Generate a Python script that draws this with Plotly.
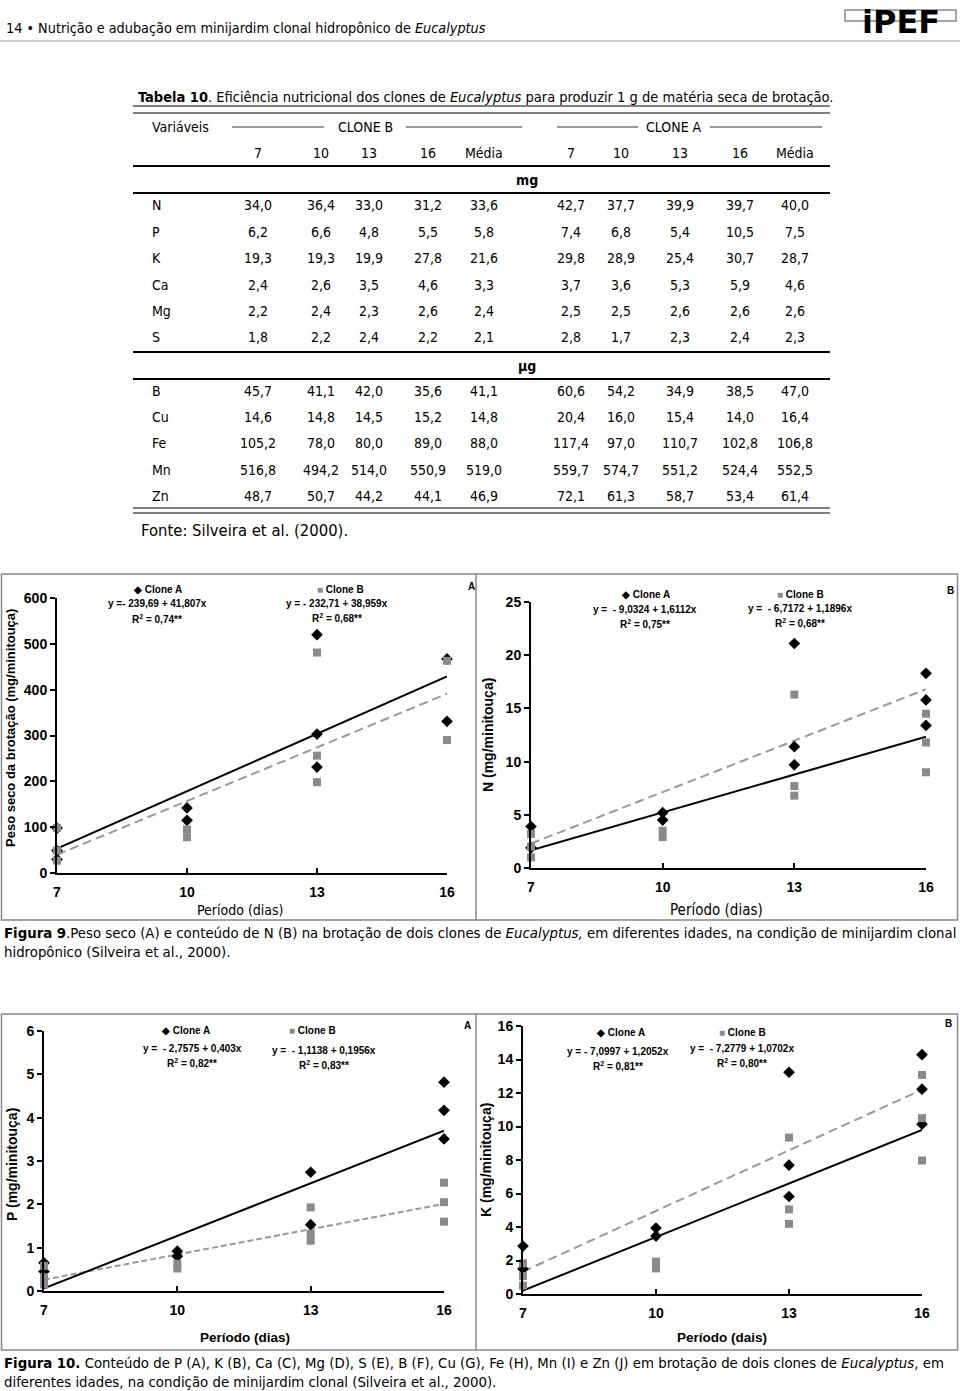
import plotly.graph_objects as go

W, H = 960, 1391
def X(p): return p / W
def Y(p): return 1 - p / H

NARROW = "Liberation Sans Narrow, Arial Narrow, DejaVu Sans Condensed, sans-serif"
SANS = "Liberation Sans, Arial, Helvetica, sans-serif"
GRAY = "#8a8a8a"

# ---------------- table data ----------------
vars_mg = ["N", "P", "K", "Ca", "Mg", "S"]
cloneB_mg = [[34.0, 36.4, 33.0, 31.2, 33.6], [6.2, 6.6, 4.8, 5.5, 5.8], [19.3, 19.3, 19.9, 27.8, 21.6],
             [2.4, 2.6, 3.5, 4.6, 3.3], [2.2, 2.4, 2.3, 2.6, 2.4], [1.8, 2.2, 2.4, 2.2, 2.1]]
cloneA_mg = [[42.7, 37.7, 39.9, 39.7, 40.0], [7.4, 6.8, 5.4, 10.5, 7.5], [29.8, 28.9, 25.4, 30.7, 28.7],
             [3.7, 3.6, 5.3, 5.9, 4.6], [2.5, 2.5, 2.6, 2.6, 2.6], [2.8, 1.7, 2.3, 2.4, 2.3]]
vars_ug = ["B", "Cu", "Fe", "Mn", "Zn"]
cloneB_ug = [[45.7, 41.1, 42.0, 35.6, 41.1], [14.6, 14.8, 14.5, 15.2, 14.8], [105.2, 78.0, 80.0, 89.0, 88.0],
             [516.8, 494.2, 514.0, 550.9, 519.0], [48.7, 50.7, 44.2, 44.1, 46.9]]
cloneA_ug = [[60.6, 54.2, 34.9, 38.5, 47.0], [20.4, 16.0, 15.4, 14.0, 16.4], [117.4, 97.0, 110.7, 102.8, 106.8],
             [559.7, 574.7, 551.2, 524.4, 552.5], [72.1, 61.3, 58.7, 53.4, 61.4]]
col_labels = ["7", "10", "13", "16", "Média"]

# ---------------- chart data ----------------
periods = [7, 10, 13, 16]
# Fig 9A - Peso seco
f9a_A_x = [7, 7, 7, 10, 10, 13, 13, 13, 16, 16]
f9a_A_y = [98, 49, 30, 142, 115, 520, 303, 231, 467, 331]
f9a_B_x = [7, 7, 7, 10, 10, 13, 13, 13, 16, 16]
f9a_B_y = [98, 49, 27, 95, 78, 481, 256, 198, 463, 290]
f9a_solid = [53, 429]
f9a_dash = [40, 391]
# Fig 9B - N
f9b_A_x = [7, 7, 10, 10, 13, 13, 13, 16, 16, 16]
f9b_A_y = [3.9, 1.9, 5.2, 4.5, 21.1, 11.4, 9.7, 18.3, 15.8, 13.4]
f9b_B_x = [7, 7, 7, 10, 10, 13, 13, 13, 16, 16, 16]
f9b_B_y = [3.2, 2.0, 1.0, 3.5, 2.9, 16.3, 7.7, 6.8, 14.5, 11.8, 9.0]
f9b_solid = [1.66, 12.34]
f9b_dash = [2.3, 16.8]
# Fig 10A - P
f10a_A_x = [7, 7, 10, 10, 13, 13, 16, 16, 16]
f10a_A_y = [0.65, 0.45, 0.92, 0.80, 2.74, 1.53, 4.82, 4.17, 3.51]
f10a_B_x = [7, 7, 7, 10, 10, 13, 13, 13, 16, 16, 16]
f10a_B_y = [0.58, 0.32, 0.15, 0.63, 0.52, 1.93, 1.32, 1.16, 2.50, 2.05, 1.60]
f10a_solid = [0.06, 3.70]
f10a_dash = [0.26, 2.01]
# Fig 10B - K
f10b_A_x = [7, 7, 10, 10, 13, 13, 13, 16, 16, 16]
f10b_A_y = [2.86, 1.5, 3.94, 3.46, 13.24, 7.69, 5.82, 14.29, 12.23, 10.14]
f10b_B_x = [7, 7, 7, 10, 10, 13, 13, 13, 16, 16, 16]
f10b_B_y = [1.83, 1.07, 0.5, 1.93, 1.53, 9.34, 5.05, 4.19, 13.08, 10.5, 7.97]
f10b_solid = [0.2, 9.8]
f10b_dash = [1.34, 12.2]

line_x = [7, 16]

fig = go.Figure()
annotations = []
shapes = []

def txt(x, y, text, size=14, family=NARROW, anchor="left", color="black", angle=0, yanchor="middle"):
    annotations.append(dict(x=X(x), y=Y(y), xref="paper", yref="paper", text=text, showarrow=False,
                            xanchor=anchor, yanchor=yanchor, textangle=angle,
                            font=dict(family=family, size=size, color=color)))

def hline(x0, x1, y, w=1.2, color="black"):
    shapes.append(dict(type="line", xref="paper", yref="paper", x0=X(x0), x1=X(x1), y0=Y(y), y1=Y(y),
                       line=dict(color=color, width=w)))

def vline(x, y0, y1, w=1.2, color="black"):
    shapes.append(dict(type="line", xref="paper", yref="paper", x0=X(x), x1=X(x), y0=Y(y0), y1=Y(y1),
                       line=dict(color=color, width=w)))

# ---------------- header ----------------
txt(4, 28, "14 • Nutrição e adubação em minijardim clonal hidropônico de <i>Eucalyptus</i>", size=14.3)
hline(0, 960, 41, w=1.2, color="#999")
shapes.append(dict(type="rect", xref="paper", yref="paper", x0=X(845), x1=X(956), y0=Y(21), y1=Y(10),
                   line=dict(color="#888", width=1.5)))
txt(901, 22, "<b>iPEF</b>", size=32, family="DejaVu Sans, sans-serif", anchor="center")

# ---------------- table ----------------
fmt = lambda v: f"{v:.1f}".replace(".", ",")
txt(136, 97, "<b>Tabela 10</b>. Eficiência nutricional dos clones de <i>Eucalyptus</i> para produzir 1 g de matéria seca de brotação.", size=14.5)
TX0, TX1 = 133, 830
hline(TX0, TX1, 106, 1.2)
hline(TX0, TX1, 113, 1.2)
TS = 14
txt(150, 127, "Variáveis", size=TS)
txt(365, 127, "CLONE B", size=TS, anchor="center")
hline(232, 324, 127, 0.8)
hline(406, 522, 127, 0.8)
txt(674, 127, "CLONE A", size=TS, anchor="center")
hline(557, 638, 127, 0.8)
hline(710, 822, 127, 0.8)
colsB = [258, 321, 369, 428, 484]
colsA = [571, 621, 680, 740, 795]
for i, lab in enumerate(col_labels):
    txt(colsB[i], 153, lab, size=TS, anchor="center")
    txt(colsA[i], 153, lab, size=TS, anchor="center")
hline(TX0, TX1, 166, 2)
txt(527, 180, "<b>mg</b>", size=TS, anchor="center")
hline(TX0, TX1, 193, 2)
rows_mg_y = [205, 232, 258, 285, 311, 337]
for r, v in enumerate(vars_mg):
    txt(150, rows_mg_y[r], v, size=TS)
    for i in range(5):
        txt(colsB[i], rows_mg_y[r], fmt(cloneB_mg[r][i]), size=TS, anchor="center")
        txt(colsA[i], rows_mg_y[r], fmt(cloneA_mg[r][i]), size=TS, anchor="center")
hline(TX0, TX1, 352, 2)
txt(527, 366, "<b>µg</b>", size=TS, anchor="center")
hline(TX0, TX1, 379, 2)
rows_ug_y = [391, 417, 443, 470, 496]
for r, v in enumerate(vars_ug):
    txt(150, rows_ug_y[r], v, size=TS)
    for i in range(5):
        txt(colsB[i], rows_ug_y[r], fmt(cloneB_ug[r][i]), size=TS, anchor="center")
        txt(colsA[i], rows_ug_y[r], fmt(cloneA_ug[r][i]), size=TS, anchor="center")
hline(TX0, TX1, 508, 1.2)
hline(TX0, TX1, 513, 1.2)
txt(139, 530, "Fonte: Silveira et al. (2000).", size=16.5)

# ---------------- figure boxes ----------------
for (yt, yb) in [(574, 920), (1014, 1350)]:
    shapes.append(dict(type="rect", xref="paper", yref="paper", x0=X(1.5), x1=X(957.5), y0=Y(yb), y1=Y(yt),
                       line=dict(color="#888", width=1.5)))
    vline(476, yt, yb, 1.5, "#888")

# ---------------- panels ----------------
TICKFONT = dict(family=SANS, size=14, color="black", weight="bold")
panels = [
    dict(n="", xd=(57, 447), yd=(598, 873), yr=[0, 600], dt=100,
         A=(f9a_A_x, f9a_A_y), B=(f9a_B_x, f9a_B_y), s=f9a_solid, d=f9a_dash, dash="9px,5px"),
    dict(n="2", xd=(531, 926), yd=(602, 868), yr=[0, 25], dt=5,
         A=(f9b_A_x, f9b_A_y), B=(f9b_B_x, f9b_B_y), s=f9b_solid, d=f9b_dash, dash="9px,5px"),
    dict(n="3", xd=(44, 444), yd=(1031, 1291), yr=[0, 6], dt=1,
         A=(f10a_A_x, f10a_A_y), B=(f10a_B_x, f10a_B_y), s=f10a_solid, d=f10a_dash, dash="6px,3px"),
    dict(n="4", xd=(523, 922), yd=(1026, 1294), yr=[0, 16], dt=2,
         A=(f10b_A_x, f10b_A_y), B=(f10b_B_x, f10b_B_y), s=f10b_solid, d=f10b_dash, dash="9px,5px"),
]
layout_axes = {}
for p in panels:
    n = p["n"]
    xa, ya = "x" + n, "y" + n
    layout_axes["xaxis" + n] = dict(domain=[X(p["xd"][0]), X(p["xd"][1])], range=[7, 16], tickvals=periods,
                                    anchor=ya, showline=True, linecolor="black", linewidth=2,
                                    ticks="inside", ticklen=5, tickwidth=2, tickcolor="black",
                                    tickfont=TICKFONT, showgrid=False, zeroline=False, ticklabelstandoff=5,
                                    automargin=False, fixedrange=True)
    layout_axes["yaxis" + n] = dict(domain=[Y(p["yd"][1]), Y(p["yd"][0])], range=p["yr"], dtick=p["dt"],
                                    anchor=xa, showline=True, linecolor="black", linewidth=2,
                                    ticks="outside", ticklen=5, tickwidth=2, tickcolor="black",
                                    tickfont=TICKFONT, showgrid=False, zeroline=False,
                                    automargin=False, fixedrange=True)
    fig.add_trace(go.Scatter(x=line_x, y=p["d"], mode="lines", line=dict(color="#999", width=2, dash=p["dash"]),
                             xaxis=xa, yaxis=ya, showlegend=False, cliponaxis=False))
    fig.add_trace(go.Scatter(x=line_x, y=p["s"], mode="lines", line=dict(color="black", width=2),
                             xaxis=xa, yaxis=ya, showlegend=False, cliponaxis=False))
    fig.add_trace(go.Scatter(x=p["A"][0], y=p["A"][1], mode="markers",
                             marker=dict(symbol="diamond", size=9, color="black"),
                             xaxis=xa, yaxis=ya, showlegend=False, cliponaxis=False))
    fig.add_trace(go.Scatter(x=p["B"][0], y=p["B"][1], mode="markers",
                             marker=dict(symbol="square", size=8, color=GRAY),
                             xaxis=xa, yaxis=ya, showlegend=False, cliponaxis=False))

# ---------------- panel texts ----------------
def eq(x, y, t):
    txt(x, y, "<b>" + t + "</b>", size=10, family=SANS, anchor="center")

SQ = "<span style='color:#8a8a8a'>■</span>"
# 9A
eq(157, 589, "◆ Clone A"); eq(157, 604, "y =- 239,69 + 41,807x"); eq(157, 619, "R<sup>2</sup> = 0,74**")
eq(340, 589, SQ + " Clone B"); eq(337, 603, "y = - 232,71 + 38,959x"); eq(337, 618, "R<sup>2</sup> = 0,68**")
eq(471, 586, "A")
txt(11, 728, "<b>Peso seco da brotação (mg/minitouça)</b>", size=13, family=SANS, anchor="center", angle=-90)
txt(240, 910, "Período (dias)", size=14, anchor="center")
# 9B
eq(645, 594, "◆ Clone A"); eq(645, 609, "y =  - 9,0324 + 1,6112x"); eq(645, 624, "R<sup>2</sup> = 0,75**")
eq(800, 594, SQ + " Clone B"); eq(800, 608, "y =  - 6,7172 + 1,1896x"); eq(800, 623, "R<sup>2</sup> = 0,68**")
eq(950, 590, "B")
txt(488, 735, "<b>N (mg/minitouça)</b>", size=14, family=SANS, anchor="center", angle=-90)
txt(716, 910, "Período (dias)", size=15, anchor="center")
# captions fig 9
txt(2, 932, "<b>Figura 9</b>.Peso seco (A) e conteúdo de N (B) na brotação de dois clones de <i>Eucalyptus,</i> em diferentes idades, na condição de minijardim clonal", size=14.8)
txt(2, 951, "hidropônico (Silveira et al., 2000).", size=14.8)

# 10A
eq(185, 1030, "◆ Clone A"); eq(192, 1048, "y =  - 2,7575 + 0,403x"); eq(192, 1063, "R<sup>2</sup> = 0,82**")
eq(312, 1030, SQ + " Clone B"); eq(324, 1050, "y =  - 1,1138 + 0,1956x"); eq(324, 1065, "R<sup>2</sup> = 0,83**")
eq(467, 1025, "A")
txt(12, 1165, "<b>P (mg/minitouça)</b>", size=14, family=SANS, anchor="center", angle=-90)
txt(245, 1337, "<b>Período (dias)</b>", size=13.5, family=SANS, anchor="center")
# 10B
eq(620, 1032, "◆ Clone A"); eq(618, 1051, "y = - 7,0997 + 1,2052x"); eq(618, 1066, "R<sup>2</sup> = 0,81**")
eq(742, 1032, SQ + " Clone B"); eq(742, 1048, "y =  - 7,2779 + 1,0702x"); eq(742, 1063, "R<sup>2</sup> = 0,80**")
eq(948, 1023, "B")
txt(486, 1160, "<b>K (mg/minitouça)</b>", size=14, family=SANS, anchor="center", angle=-90)
txt(722, 1337, "<b>Período (dais)</b>", size=13.5, family=SANS, anchor="center")
# captions fig 10
txt(2, 1362, "<b>Figura 10.</b> Conteúdo de P (A), K (B), Ca (C), Mg (D), S (E), B (F), Cu (G), Fe (H), Mn (I) e Zn (J) em brotação de dois clones de <i>Eucalyptus</i>, em", size=14.8)
txt(2, 1381, "diferentes idades, na condição de minijardim clonal (Silveira et al., 2000).", size=14.8)

fig.update_layout(width=W, height=H, margin=dict(l=0, r=0, t=0, b=0, pad=0, autoexpand=False),
                  paper_bgcolor="white", plot_bgcolor="rgba(0,0,0,0)", showlegend=False,
                  annotations=annotations, shapes=shapes,
                  font=dict(family=SANS, color="black"), **layout_axes)
fig.write_html("out.html", config={"displayModeBar": False, "staticPlot": False},
               post_script="document.body.style.margin='0px';document.body.style.padding='0px';"
                           "document.body.style.overflow='hidden';")
